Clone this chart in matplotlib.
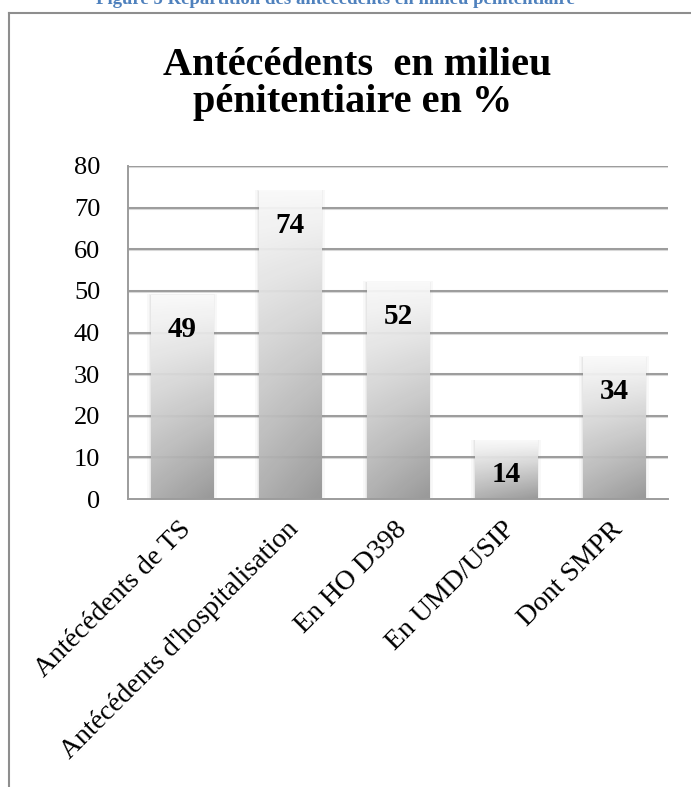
import numpy as np
import matplotlib
matplotlib.use("Agg")
import matplotlib.pyplot as plt
import matplotlib.transforms as mtransforms
from matplotlib.lines import Line2D
from matplotlib.patches import Rectangle

categories = ["Antécédents de TS", "Antécédents d'hospitalisation",
              "En HO D398", "En UMD/USIP", "Dont SMPR"]
values = [49, 74, 52, 14, 34]
yticks = [0, 10, 20, 30, 40, 50, 60, 70, 80]
title = "Antécédents  en milieu\npénitentiaire en %"
caption = "Figure 5 Répartition des antécédents en milieu pénitentiaire"

W, H = 691, 787
fig = plt.figure(figsize=(W / 100, H / 100), dpi=100)
fig.patch.set_facecolor("white")

serif = ["Liberation Serif", "DejaVu Serif"]

# document caption, partly cut by the top edge
fig.text(335 / W, 1 - 4 / H, caption, ha="center", va="baseline",
         fontsize=13.5, fontweight="bold", color="#4F81BD", family=serif)

# chart frame (continues past the right and bottom edges)
frame_col = "#8e8e8e"
fig.add_artist(Line2D([9 / W, 9 / W], [0, 1 - 13 / H], transform=fig.transFigure,
                      color=frame_col, lw=1.5))
fig.add_artist(Line2D([9 / W, 1.0], [1 - 13 / H, 1 - 13 / H], transform=fig.transFigure,
                      color=frame_col, lw=1.5))

# title
line1, line2 = title.split("\n")
fig.text(357 / W, 1 - 75 / H, line1, ha="center", va="baseline",
         fontsize=29, fontweight="bold", color="black", family=serif)
fig.text(353 / W, 1 - 112 / H, line2, ha="center", va="baseline",
         fontsize=29, fontweight="bold", color="black", family=serif)

ax = fig.add_axes([128 / W, 1 - 499 / H, 540 / W, 333 / H])
ax.set_xlim(-0.5, len(categories) - 0.5)
ax.set_ylim(0, 80)

# gridlines with a soft light shadow
for t in yticks[1:]:
    ax.axhline(t, color="#d8d8d8", lw=2.2, zorder=0.9)
    ax.axhline(t, color="#9c9c9c", lw=1.4, zorder=1)

x = np.arange(len(categories))
bars = ax.bar(x, values, width=0.58, facecolor="none", edgecolor="none", zorder=3)

# gradient fill for each bar: white at the top, grey at the base
ny, nx = 200, 60
yf = np.linspace(0, 1, ny)[:, None]          # 0 = base, 1 = top
xf = np.linspace(0, 1, nx)[None, :]
shade = 0.985 - 0.31 * (1 - yf) ** 1.1 - 0.10 * (1 - yf) * xf
rgb = np.dstack([shade, shade, shade])

for b in bars:
    x0, w, h = b.get_x(), b.get_width(), b.get_height()
    # soft glow around the bar
    for k, a in [(0.035, 0.05), (0.02, 0.07), (0.008, 0.09)]:
        ax.add_patch(Rectangle((x0 - k, 0), w + 2 * k, h + k * 8, facecolor="#888888",
                               edgecolor="none", alpha=a, zorder=2))
    ax.imshow(rgb, extent=[x0, x0 + w, 0, h], origin="lower", aspect="auto",
              zorder=3, alpha=0.93, interpolation="bilinear")
    ax.annotate(f"{h:g}", (x0 + w / 2, h), xytext=(0, -24.5), textcoords="offset points",
                ha="center", va="center", fontsize=21, fontweight="bold",
                family=serif, color="black", zorder=5)

ax.set_xlim(-0.5, len(categories) - 0.5)
ax.set_ylim(0, 80)

for s in ["top", "right"]:
    ax.spines[s].set_visible(False)
for s in ["left", "bottom"]:
    ax.spines[s].set_color("#9c9c9c")
    ax.spines[s].set_linewidth(1.4)
    ax.spines[s].set_zorder(4)

ax.set_yticks(yticks)
ax.set_yticklabels([str(t) for t in yticks], fontsize=19, family=serif)
ax.tick_params(axis="y", length=0, pad=20)
ax.set_xticks(x)
ax.set_xticklabels(categories, rotation=45, ha="right", rotation_mode="anchor",
                   fontsize=20, family=serif)
ax.tick_params(axis="x", length=0, pad=13)
shift = mtransforms.ScaledTranslation(-4 / 100, 0, fig.dpi_scale_trans)
for lab in ax.get_xticklabels():
    lab.set_transform(lab.get_transform() + shift)

fig.savefig("out.png", dpi=100, facecolor="white")
